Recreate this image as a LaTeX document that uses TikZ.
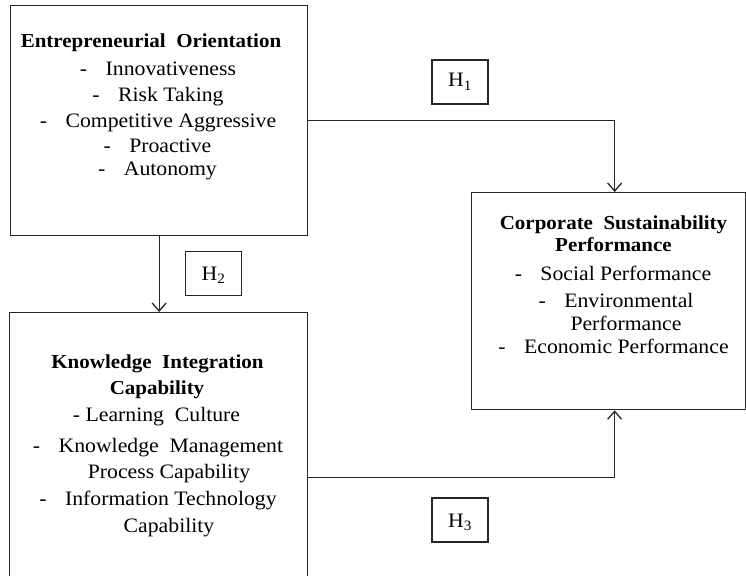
\documentclass[tikz,border=0pt]{standalone}
\usepackage{fontspec}
\setmainfont[FakeStretch=1.06]{Liberation Serif}
\usetikzlibrary{arrows.meta}
\begin{document}
\begin{tikzpicture}[x=1pt,y=-1pt,
 box/.style={draw=black!85,line width=1.3pt,rectangle,inner sep=0pt,anchor=north west},
 hbox/.style={draw=black!85,line width=1.3pt,rectangle,inner sep=0pt,minimum width=56pt,minimum height=44pt},
 txt/.style={inner sep=0pt,font=\fontsize{20.5}{24}\selectfont,anchor=base},
 ttl/.style={inner sep=0pt,font=\fontsize{19.8}{24}\selectfont\bfseries,anchor=base},
 arr/.style={draw=black!85,line width=1.3pt,-{Straight Barb[length=8pt,width=14pt,line width=1.3pt]}}
]
\useasboundingbox (0,0) rectangle (746,575);
\begin{scope}
\clip (0,0) rectangle (746,575);
\fill[white] (0,0) rectangle (746,575);
% boxes
\node[box,minimum width=297pt,minimum height=230pt] (eo) at (10,5) {};
\node[box,minimum width=298pt,minimum height=330pt] (kic) at (9,312) {};
\node[box,minimum width=273.5pt,minimum height=217pt] (csp) at (471,192) {};
% hypothesis labels
\node[hbox] (h1) at (460,82) {};
\node[txt] (h1t) at (460,87) {H\textsubscript{1}};
\node[hbox] (h2) at (213.5,273.5) {};
\node[txt] (h2t) at (213.5,280) {H\textsubscript{2}};
\node[hbox] (h3) at (460,520) {};
\node[txt] (h3t) at (460,527) {H\textsubscript{3}};
% EO text
\node[ttl] (eo0) at (151,48) {Entrepreneurial~ Orientation};
\node[txt] (eo1) at (158,76) {-\hspace{0.9em}Innovativeness};
\node[txt] (eo2) at (158,102) {-\hspace{0.9em}Risk Taking};
\node[txt] (eo3) at (158,128) {-\hspace{0.9em}Competitive Aggressive};
\node[txt] (eo4) at (157.5,152) {-\hspace{0.9em}Proactive};
\node[txt] (eo5) at (157.5,175) {-\hspace{0.9em}Autonomy};
% KIC text
\node[ttl] (k0) at (157.5,368) {Knowledge~ Integration};
\node[ttl] (k1) at (157,394) {Capability};
\node[txt] (k2) at (156.5,421) {- Learning~ Culture};
\node[txt] (k3) at (158,452) {-\hspace{0.9em}Knowledge~ Management};
\node[txt] (k4) at (169,478) {Process Capability};
\node[txt] (k5) at (158,505) {-\hspace{0.9em}Information Technology};
\node[txt] (k6) at (169,532) {Capability};
% CSP text
\node[ttl] (c0) at (613.5,229) {Corporate~ Sustainability};
\node[ttl] (c1) at (613.5,251) {Performance};
\node[txt] (c2) at (613,280) {-\hspace{0.9em}Social Performance};
\node[txt] (c3) at (616,307) {-\hspace{0.9em}Environmental};
\node[txt] (c4) at (626,330) {Performance};
\node[txt] (c5) at (613.5,353) {-\hspace{0.9em}Economic Performance};
% connectors
\draw[arr] (eo.east) -| ([xshift=6.25pt]csp.north);
\draw[arr] (eo.south) -- (eo.south |- kic.north);
\draw[arr] (kic.east) -| ([xshift=6.25pt]csp.south);
\end{scope}
\end{tikzpicture}
\end{document}
